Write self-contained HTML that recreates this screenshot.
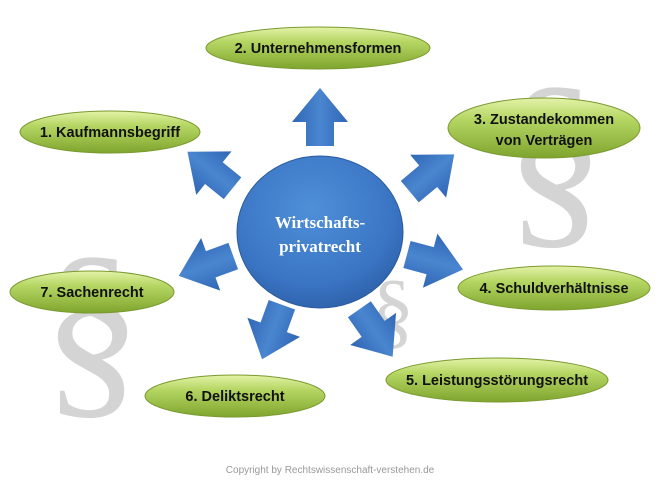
<!DOCTYPE html>
<html><head><meta charset="utf-8"><style>
html,body{margin:0;padding:0;background:#fff;}
svg{display:block;}
.t{font-family:"Liberation Sans",sans-serif;font-weight:bold;font-size:14.5px;fill:#111;text-anchor:middle;}
.p{font-family:"Liberation Serif",serif;fill:#d4d4d4;text-anchor:middle;}
</style></head><body>
<svg width="660" height="495" viewBox="0 0 660 495" xmlns="http://www.w3.org/2000/svg">
<defs>
<linearGradient id="g" x1="0" y1="0" x2="0" y2="1">
<stop offset="0" stop-color="#e4f3a8"/><stop offset="0.35" stop-color="#b5d663"/><stop offset="1" stop-color="#7fa52e"/>
</linearGradient>
<radialGradient id="c" cx="0.45" cy="0.35" r="0.7">
<stop offset="0" stop-color="#4f8fd8"/><stop offset="0.7" stop-color="#3a75c4"/><stop offset="1" stop-color="#2d5ea6"/>
</radialGradient>
<linearGradient id="a" x1="0" y1="0" x2="1" y2="0">
<stop offset="0" stop-color="#2f66b5"/><stop offset="0.5" stop-color="#4a86d0"/><stop offset="1" stop-color="#2f66b5"/>
</linearGradient>
<g id="arr"><path d="M-14,29 L-14,5 L-28,5 L0,-29 L28,5 L14,5 L14,29 Z" fill="url(#a)"/></g>
</defs>
<text class="p" x="555" y="223" font-size="200">§</text>
<text class="p" x="92" y="393" font-size="200">§</text>
<text class="p" x="393" y="338" font-size="85">§</text>

<ellipse cx="320" cy="232" rx="83" ry="76" fill="url(#c)" stroke="#2a5a9e" stroke-width="1"/>
<text x="320" y="228" font-family="Liberation Serif,serif" font-weight="bold" font-size="17" fill="#fff" text-anchor="middle">Wirtschafts-</text>
<text x="320" y="252" font-family="Liberation Serif,serif" font-weight="bold" font-size="17" fill="#fff" text-anchor="middle">privatrecht</text>

<use href="#arr" transform="translate(320,117)"/>
<use href="#arr" transform="translate(210,170) rotate(-51)"/>
<use href="#arr" transform="translate(432,173) rotate(50)"/>
<use href="#arr" transform="translate(435,262) rotate(105)"/>
<use href="#arr" transform="translate(376,333) rotate(145)"/>
<use href="#arr" transform="translate(272,332) rotate(200)"/>
<use href="#arr" transform="translate(206,266) rotate(-110)"/>

<g stroke="#7a9a30" stroke-width="1">
<ellipse cx="110" cy="132" rx="90" ry="21" fill="url(#g)"/>
<ellipse cx="318" cy="48" rx="112" ry="21" fill="url(#g)"/>
<ellipse cx="544" cy="128" rx="96" ry="30" fill="url(#g)"/>
<ellipse cx="554" cy="288" rx="96" ry="22" fill="url(#g)"/>
<ellipse cx="497" cy="380" rx="111" ry="22" fill="url(#g)"/>
<ellipse cx="235" cy="396" rx="90" ry="21" fill="url(#g)"/>
<ellipse cx="92" cy="292" rx="82" ry="21" fill="url(#g)"/>
</g>
<text class="t" x="110" y="137">1. Kaufmannsbegriff</text>
<text class="t" x="318" y="53">2. Unternehmensformen</text>
<text class="t" x="544" y="124">3. Zustandekommen</text>
<text class="t" x="544" y="145">von Verträgen</text>
<text class="t" x="554" y="293">4. Schuldverhältnisse</text>
<text class="t" x="497" y="385">5. Leistungsstörungsrecht</text>
<text class="t" x="235" y="401">6. Deliktsrecht</text>
<text class="t" x="92" y="297">7. Sachenrecht</text>

<text x="330" y="473" font-family="Liberation Sans,sans-serif" font-size="10" fill="#999" text-anchor="middle">Copyright by Rechtswissenschaft-verstehen.de</text>
</svg>
</body></html>
